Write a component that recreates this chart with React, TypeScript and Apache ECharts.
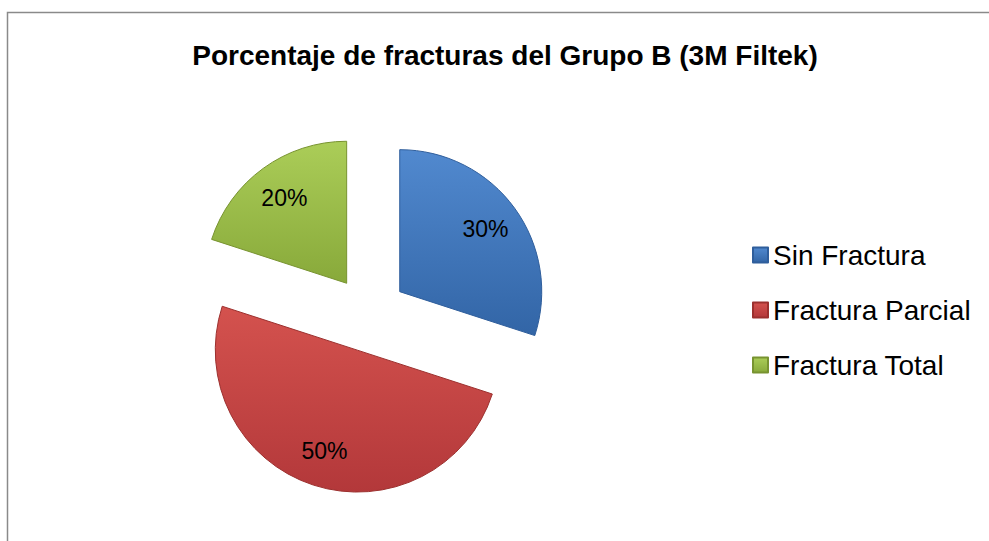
import React, { useEffect, useRef } from "react";
import * as echarts from "echarts";

const titleText = "Porcentaje de fracturas del Grupo B (3M Filtek)";
const categories = ["Sin Fractura", "Fractura Parcial", "Fractura Total"];
const values = [30, 50, 20];
const topColors = ["#5189cf", "#d4524e", "#abcd58"];
const bottomColors = ["#3265a6", "#b3383a", "#88a93a"];
const borderColors = ["#2f5e9c", "#9c302e", "#789330"];

const FONT = "Liberation Sans, Arial, sans-serif";

export default function App() {
  const ref = useRef<HTMLDivElement>(null);
  useEffect(() => {
    if (!ref.current) return;
    const chart = echarts.init(ref.current, undefined, { renderer: "svg" });
    const center = [369, 314];
    const offset = 38;
    const pieData = categories.map((name, i) => ({
      name,
      value: values[i],
      selected: true,
      itemStyle: {
        color: new echarts.graphic.LinearGradient(0, 0, 0, 1, [
          { offset: 0, color: topColors[i] },
          { offset: 1, color: bottomColors[i] },
        ]),
        borderColor: borderColors[i],
        borderWidth: 1,
      },
    }));
    const labelData = categories.map((name, i) => ({
      name,
      value: values[i],
      selected: true,
    }));
    chart.setOption({
      animation: false,
      backgroundColor: "#ffffff",
      graphic: [
        {
          type: "rect",
          shape: { x: 7.5, y: 12.5, width: 1000, height: 600 },
          style: { fill: "none", stroke: "#8a8a8a", lineWidth: 1.5 },
          silent: true,
        },
        {
          type: "text",
          x: 505,
          y: 55,
          style: {
            text: titleText,
            fontFamily: FONT,
            fontWeight: "bold",
            fontSize: 28,
            fill: "#000000",
            textAlign: "center",
            textVerticalAlign: "middle",
          },
        },
      ],
      legend: {
        orient: "vertical",
        left: 747,
        top: 235,
        data: categories,
        icon: "rect",
        itemWidth: 15,
        itemHeight: 15,
        itemGap: 25,
        selectedMode: false,
        textStyle: {
          fontFamily: FONT,
          fontSize: 28,
          color: "#000000",
          lineHeight: 30,
        },
      },
      series: [
        {
          type: "pie",
          center,
          radius: [0, 142],
          startAngle: 90,
          clockwise: true,
          selectedMode: "multiple",
          selectedOffset: offset,
          label: { show: false },
          labelLine: { show: false },
          emphasis: { disabled: true },
          data: pieData,
        },
        {
          type: "pie",
          center,
          radius: [64, 142],
          startAngle: 90,
          clockwise: true,
          silent: true,
          selectedMode: "multiple",
          selectedOffset: offset,
          itemStyle: { color: "rgba(0,0,0,0)", borderWidth: 0 },
          label: {
            show: true,
            position: "inside",
            formatter: "{c}%",
            fontFamily: FONT,
            fontSize: 23,
            color: "#000000",
          },
          labelLine: { show: false },
          emphasis: { disabled: true },
          data: labelData,
        },
      ],
    });
    return () => chart.dispose();
  }, []);
  return (
    <div
      ref={ref}
      style={{ position: "fixed", left: 0, top: 0, width: 989, height: 541 }}
    />
  );
}
